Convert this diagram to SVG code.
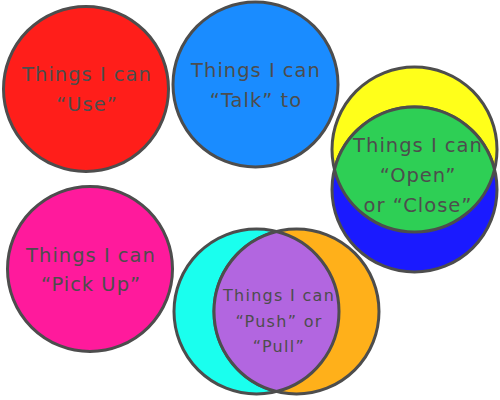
<svg xmlns="http://www.w3.org/2000/svg" width="500" height="400" viewBox="0 0 500 400">
<style>
.c{stroke:#4d4d4d;stroke-width:3}
.t{font-family:"DejaVu Sans",Verdana,sans-serif;font-size:19.5px;fill:#4d4d4d;text-anchor:middle;letter-spacing:1px}
.s{font-size:16px;letter-spacing:1.3px}
</style>
<rect width="500" height="400" fill="#ffffff"/>
<g id="use">
<circle class="c" cx="86" cy="89" r="82.5" fill="#ff1e1a"/>
<text class="t" x="87" y="81">Things I can</text>
<text class="t" x="87" y="111">“Use”</text>
</g>
<g id="talk">
<circle class="c" cx="255.5" cy="84.5" r="82.5" fill="#1a8cff"/>
<text class="t" x="256" y="77">Things I can</text>
<text class="t" x="256" y="107">“Talk” to</text>
</g>
<g id="openclose">
<circle class="c" cx="414.5" cy="149.5" r="82.5" fill="#ffff1a"/>
<circle class="c" cx="414.5" cy="189.5" r="82.5" fill="#1a1aff"/>
<path class="c" d="M334.46 169.5A82.5 82.5 0 0 1 494.54 169.5A82.5 82.5 0 0 1 334.46 169.5Z" fill="#2ecf55"/>
<text class="t" x="418" y="152">Things I can</text>
<text class="t" x="418" y="182">“Open”</text>
<text class="t" x="418" y="212">or “Close”</text>
</g>
<g id="pickup">
<circle class="c" cx="90" cy="269" r="82.5" fill="#ff1a9c"/>
<text class="t" x="91" y="262">Things I can</text>
<text class="t" x="91" y="291">“Pick Up”</text>
</g>
<g id="pushpull">
<circle class="c" cx="256.5" cy="311.5" r="82.5" fill="#1affee"/>
<circle class="c" cx="296.5" cy="311.5" r="82.5" fill="#ffb01a"/>
<path class="c" d="M276.5 231.46A82.5 82.5 0 0 1 276.5 391.54A82.5 82.5 0 0 1 276.5 231.46Z" fill="#b266e0"/>
<text class="t s" x="279" y="301">Things I can</text>
<text class="t s" x="279" y="327">“Push” or</text>
<text class="t s" x="279" y="352">“Pull”</text>
</g>
<g id="connectors"/>
</svg>
